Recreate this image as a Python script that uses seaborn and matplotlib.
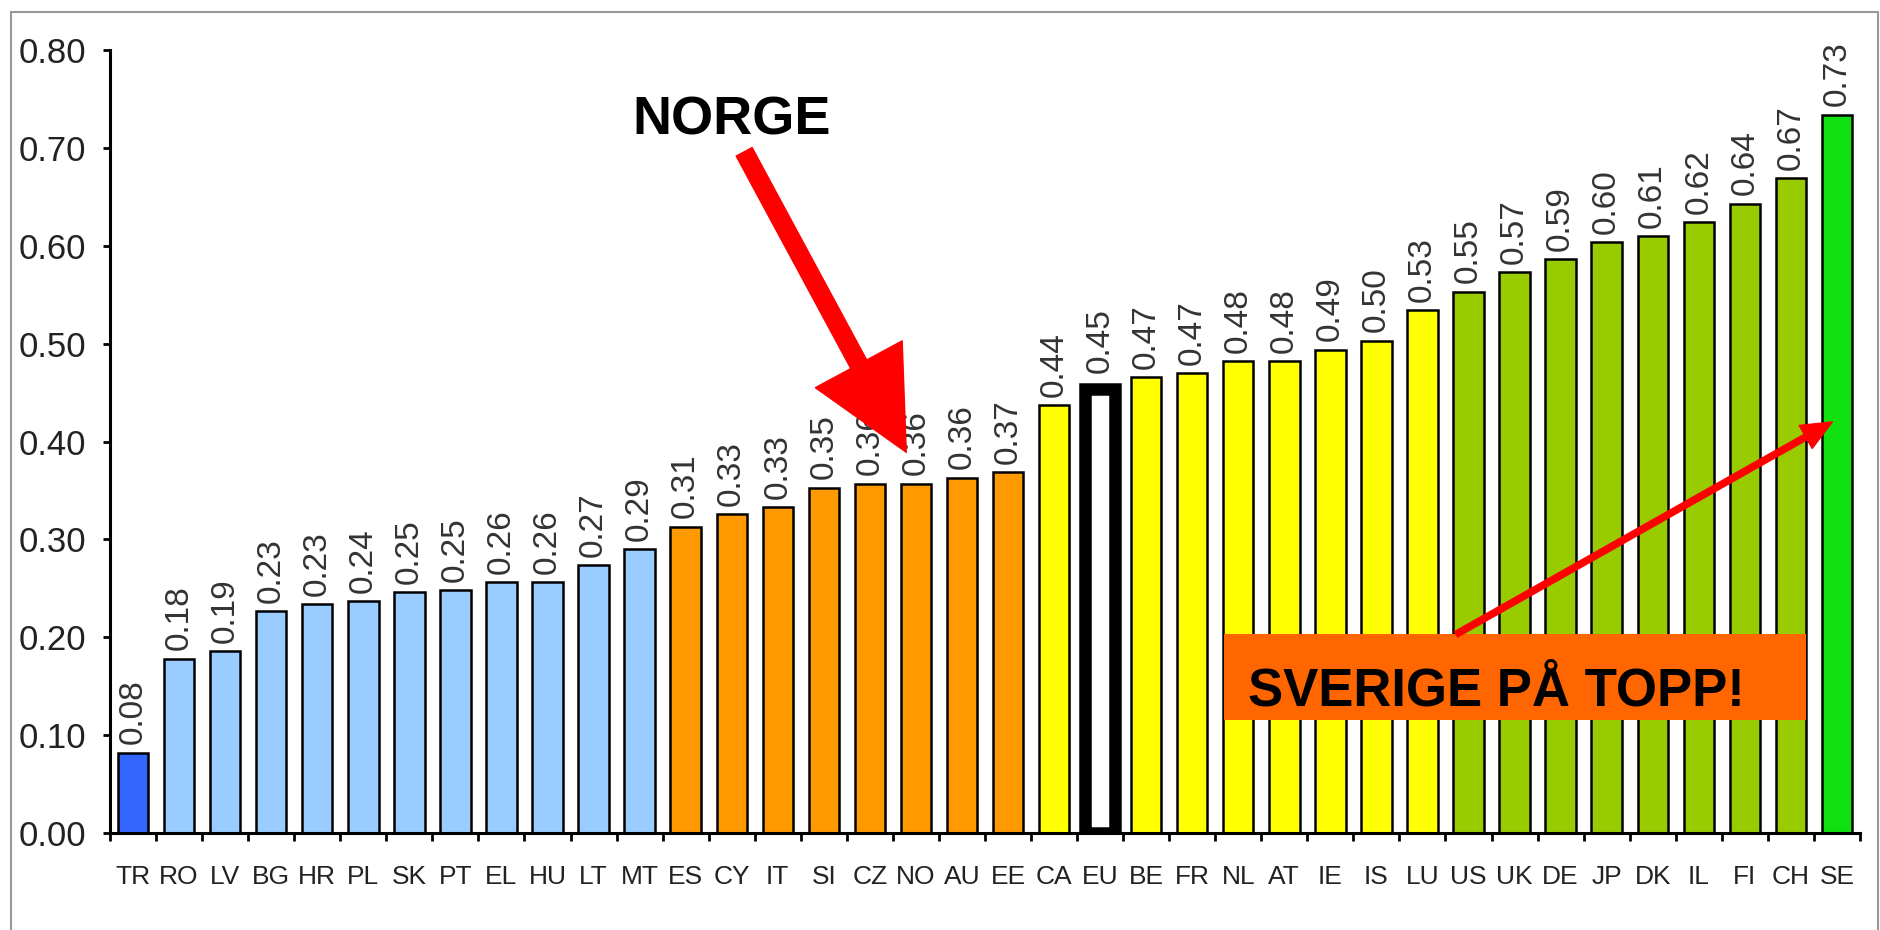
import numpy as np
import pandas as pd
import matplotlib
matplotlib.use("Agg")
import matplotlib.pyplot as plt
import seaborn as sns
from matplotlib.patches import Rectangle
from matplotlib.ticker import FormatStrFormatter

# Country codes, ordered from lowest to highest score
countries = ["TR", "RO", "LV", "BG", "HR", "PL", "SK", "PT", "EL", "HU", "LT", "MT",
             "ES", "CY", "IT", "SI", "CZ", "NO", "AU", "EE",
             "CA", "EU", "BE", "FR", "NL", "AT", "IE", "IS", "LU",
             "US", "UK", "DE", "JP", "DK", "IL", "FI", "CH", "SE"]
scores = [0.082, 0.178, 0.186, 0.227, 0.234, 0.237, 0.246, 0.248, 0.256, 0.256, 0.274, 0.290,
          0.313, 0.326, 0.333, 0.353, 0.357, 0.357, 0.363, 0.369,
          0.437, 0.454, 0.466, 0.470, 0.482, 0.482, 0.494, 0.503, 0.534,
          0.553, 0.573, 0.586, 0.604, 0.610, 0.624, 0.643, 0.669, 0.734]
groups = (["bottom"] + ["low"] * 11 + ["mid"] * 8 + ["upper"] * 9
          + ["high"] * 8 + ["top"])

group_colors = {"bottom": "#3366FF", "low": "#99CCFF", "mid": "#FF9900",
                "upper": "#FFFF00", "high": "#99CC00", "top": "#10E010"}
average_code = "EU"

df = pd.DataFrame({"country": countries, "score": scores, "group": groups})
palette = {c: ("#FFFFFF" if c == average_code else group_colors[g])
           for c, g in zip(countries, groups)}

sns.set_style("ticks")
plt.rcParams["font.family"] = ["Liberation Sans", "DejaVu Sans"]

fig = plt.figure(figsize=(18.81, 9.30), dpi=100)
ax = fig.add_axes([0.0585, 0.1043, 0.9303, 0.8419])

sns.barplot(data=df, x="country", y="score", hue="country", palette=palette,
            legend=False, saturation=1, width=0.66, edgecolor="black",
            linewidth=1.8, ax=ax)

# Highlight the EU average with a heavy outline
eu_idx = countries.index(average_code)
ax.patches[eu_idx].set_linewidth(9)

# Value labels above each bar
for i, v in enumerate(scores):
    pad = 11 if countries[i] == average_code else 6
    ax.annotate(f"{v:.2f}", xy=(i, v), xytext=(0, pad), textcoords="offset points",
                rotation=90, ha="center", va="bottom", fontsize=24, color="#333333",
                zorder=3)

ax.set_xlim(-0.5, len(countries) - 0.5)
ax.set_ylim(0, 0.80)
ax.set_yticks(np.arange(0, 0.81, 0.1))
ax.yaxis.set_major_formatter(FormatStrFormatter("%.2f"))
ax.set_xticks(range(len(countries)))
ax.set_xticklabels(countries)
ax.set_xticks(np.arange(-0.5, len(countries), 1), minor=True)
ax.set_xlabel("")
ax.set_ylabel("")

ax.tick_params(axis="x", which="major", length=0, pad=23, labelsize=19,
               labelcolor="#222222")
ax.tick_params(axis="x", which="minor", length=6, width=2, direction="out",
               color="black")
ax.tick_params(axis="y", length=5, width=2, direction="out", pad=12,
               labelsize=25, labelcolor="#222222", color="black")
sns.despine(ax=ax)
for side in ("left", "bottom"):
    ax.spines[side].set_linewidth(2.2)
    ax.spines[side].set_color("black")

# "NORGE" callout with a heavy red arrow
ax.text(10.84, 0.714, "NORGE", fontsize=39, fontweight="bold",
        ha="left", va="baseline", color="black", zorder=6)
ax.annotate("", xy=(16.79, 0.389), xytext=(13.27, 0.696),
            arrowprops=dict(arrowstyle="simple,head_length=72,head_width=71,tail_width=13",
                            mutation_scale=1, color="#FF0000", shrinkA=0, shrinkB=0),
            zorder=6)

# "SVERIGE PÅ TOPP!" banner with a thin red arrow to the top bar
ax.add_patch(Rectangle((23.69, 0.1155), 12.64, 0.0878, facecolor="#FF6600",
                       edgecolor="none", zorder=4))
ax.text(24.21, 0.130, "SVERIGE PÅ TOPP!", fontsize=38, fontweight="bold",
        ha="left", va="baseline", color="black", zorder=5)
ax.annotate("", xy=(36.9, 0.42), xytext=(28.73, 0.203),
            arrowprops=dict(arrowstyle="simple,head_length=22,head_width=19,tail_width=4.5",
                            mutation_scale=1, color="#FF0000", shrinkA=0, shrinkB=0),
            zorder=6)

# Thin grey frame around the chart area
fig.patches.append(Rectangle((11 / 1881, -0.05), (1878 - 11) / 1881, 1.05 - 12 / 930,
                             transform=fig.transFigure, fill=False,
                             edgecolor="#999999", linewidth=1.5))

fig.savefig("out.png", dpi=100)
